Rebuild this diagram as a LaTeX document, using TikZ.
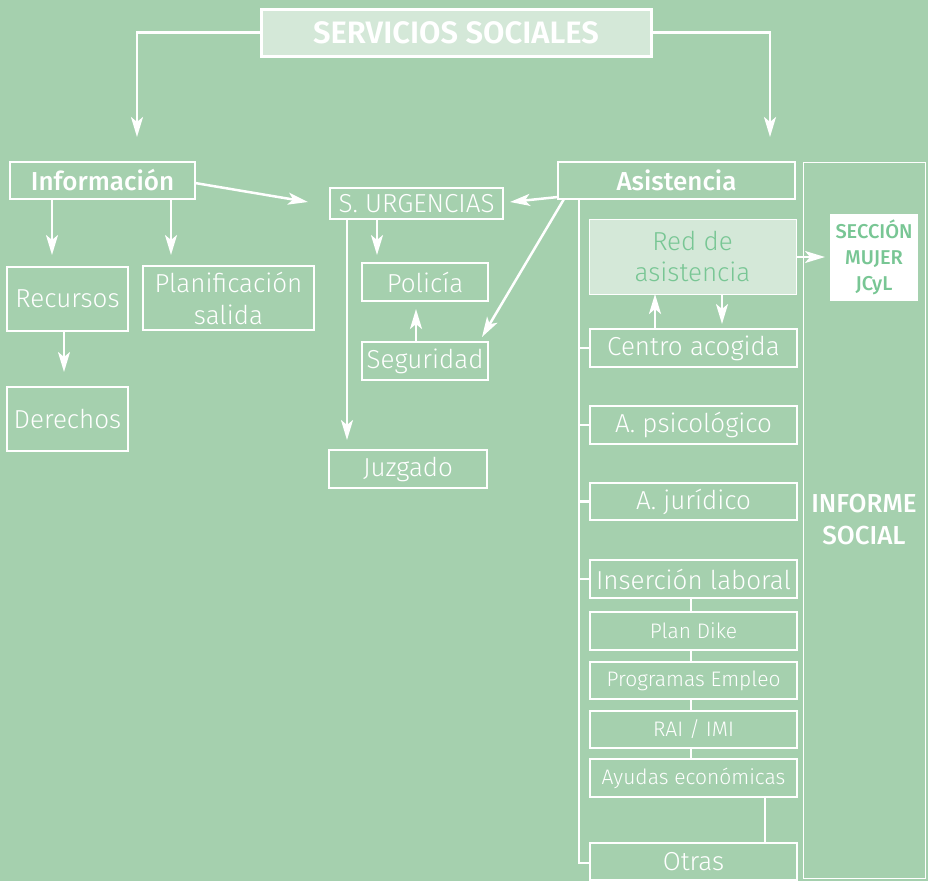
\documentclass[tikz,border=0pt]{standalone}
\usepackage{fontspec}
\setmainfont{Fira Sans}[UprightFont=* Light, BoldFont=* Medium]
\newfontfamily\heavyfont{Fira Sans SemiBold}
\usetikzlibrary{arrows.meta}
\definecolor{bg}{RGB}{165,208,174}
\definecolor{lightfill}{RGB}{212,232,216}
\definecolor{greentext}{RGB}{120,198,148}
\begin{document}
\begin{tikzpicture}[x=1pt,y=-1pt,
  box/.style={draw=white, line width=1.5pt, text=white, inner sep=0pt, align=center, font=\fontsize{26}{32}\selectfont},
  smallbox/.style={box, font=\fontsize{21}{24}\selectfont},
  boldbox/.style={box, font=\bfseries\fontsize{26}{30}\selectfont},
  line/.style={draw=white, line width=2.5pt},
  arr/.style={line, -{Stealth[length=20pt,width=12pt,inset=5pt]}}]
\fill[bg] (0,0) rectangle (928,881);
\useasboundingbox (0,0) rectangle (928,881);
% top
\node[draw=white, line width=3pt, fill=lightfill, text=white, minimum width=390pt, minimum height=47pt, font=\heavyfont\fontsize{31}{34}\selectfont] (serv) at (456,32.5) {SERVICIOS SOCIALES};
% left column
\node[boldbox, minimum width=185pt, minimum height=37pt] (info) at (102.5,180.5) {Información};
\node[box, minimum width=121pt, minimum height=64pt] (recursos) at (67.5,299) {Recursos};
\node[box, minimum width=171pt, minimum height=64pt] (planif) at (228.5,298) {Planificación\\salida};
\node[box, minimum width=121pt, minimum height=64pt] (derechos) at (67.5,419) {Derechos};
% middle
\node[box, minimum width=173pt, minimum height=31pt] (urg) at (416.5,203.5) {S. URGENCIAS};
\node[box, minimum width=126pt, minimum height=38pt] (policia) at (425,282) {Policía};
\node[box, minimum width=126pt, minimum height=38pt] (seguridad) at (425,361) {Seguridad};
\node[box, minimum width=158pt, minimum height=38pt] (juzgado) at (408,469) {Juzgado};
% right
\node[boldbox, minimum width=237pt, minimum height=37pt] (asis) at (676.5,180.5) {Asistencia};
\node[box, line width=1pt, fill=lightfill, text=greentext, minimum width=207pt, minimum height=75pt, font=\fontsize{26}{31}\selectfont] (red) at (692.5,256.5) {Red de\\asistencia};
\node[box, line width=1pt, minimum width=122pt, minimum height=716pt, font=\bfseries\fontsize{26}{32}\selectfont] (informe) at (864,520) {INFORME\\SOCIAL};
\node[fill=white, text=greentext, inner sep=0pt, align=center, minimum width=88pt, minimum height=87pt, font=\bfseries\fontsize{20}{26}\selectfont] (seccion) at (874,257.5) {SECCIÓN\\MUJER\\JCyL};
\node[box, minimum width=207pt, minimum height=38pt] (centro) at (693.5,348) {Centro acogida};
\node[box, minimum width=207pt, minimum height=38pt] (psico) at (693.5,425) {A. psicológico};
\node[box, minimum width=207pt, minimum height=37pt] (juridico) at (693.5,501.5) {A. jurídico};
\node[box, minimum width=207pt, minimum height=38pt] (insercion) at (693.5,579) {Inserción laboral};
\node[smallbox, minimum width=207pt, minimum height=38pt] (dike) at (693.5,631) {Plan Dike};
\node[smallbox, minimum width=207pt, minimum height=37pt] (programas) at (693.5,680.5) {Programas Empleo};
\node[smallbox, minimum width=207pt, minimum height=37pt] (rai) at (693.5,729.5) {RAI / IMI};
\node[smallbox, minimum width=207pt, minimum height=38pt] (ayudas) at (693.5,778) {Ayudas económicas};
\node[box, minimum width=207pt, minimum height=37pt] (otras) at (693.5,861.5) {Otras};
% coordinates
\coordinate (infoin) at (137,137);
\coordinate (asisin) at (770,137);
\coordinate (recin) at (52,255);
\coordinate (planin) at (171,255);
\coordinate (derin) at (64,372);
\coordinate (urgin) at (308,202);
\coordinate (urgin2) at (510,202);
\coordinate (polin) at (377,255);
\coordinate (polin2) at (416,309);
\coordinate (juzin) at (347,440);
\coordinate (segin) at (482,337);
\coordinate (secin) at (825,257);
\coordinate (redin) at (655,294);
\coordinate (centin) at (722,324);
\coordinate (trunkend) at (579,863);
% connectors
\draw[arr] (serv.west) -| (infoin);
\draw[arr] (serv.east) -| (asisin);
\draw[arr] (info.south -| recin) -- (recin);
\draw[arr] (info.south -| planin) -- (planin);
\draw[arr] (recursos.south -| derin) -- (derin);
\draw[arr] (195,183) -- (urgin);
\draw[arr] (urg.south -| polin) -- (polin);
\draw[arr] (seguridad.north -| polin2) -- (polin2);
\draw[arr] (urg.south -| juzin) -- (juzin);
\draw[arr] (558,197) -- (urgin2);
\draw[arr] (564,199) -- (segin);
\draw[arr] (red.east |- secin) -- (secin);
\draw[arr] (centro.north -| redin) -- (redin);
\draw[arr] (red.south -| centin) -- (centin);
\draw[line] (asis.south -| trunkend) -- (trunkend) -- (otras.west |- trunkend);
\foreach \n in {centro,psico,juridico,insercion}
  \draw[line] (trunkend |- \n.west) -- (\n.west);
\draw[line] (insercion.south -| 691,0) -- (dike.north -| 691,0);
\draw[line] (dike.south -| 691,0) -- (programas.north -| 691,0);
\draw[line] (programas.south -| 691,0) -- (rai.north -| 691,0);
\draw[line] (rai.south -| 691,0) -- (ayudas.north -| 691,0);
\draw[line] (ayudas.south -| 765,0) -- (otras.north -| 765,0);
\end{tikzpicture}
\end{document}
